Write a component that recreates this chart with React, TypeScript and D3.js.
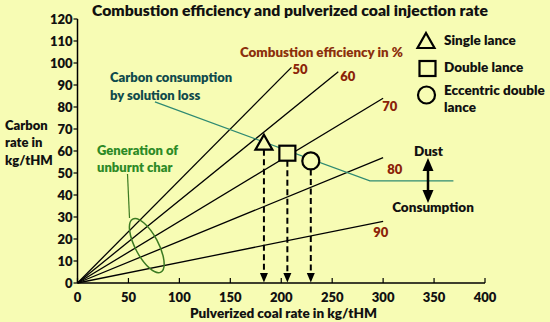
import React from "react";
import * as d3 from "d3";

const xTicks = [0, 50, 100, 150, 200, 250, 300, 350, 400];
const yTicks = [0, 10, 20, 30, 40, 50, 60, 70, 80, 90, 100, 110, 120];
const efficiencies = ["50", "60", "70", "80", "90"];
const lineEndX = [210, 256, 300, 300, 300];
const lineEndY = [98, 96, 84, 57, 28];
const labelDx = [1, 2, -1, 4, -10];
const labelDy = [7, 9, 13, 16, 16];
const lances = ["Single lance", "Double lance", "Eccentric double lance"];
const lanceX = [183, 206, 229];
const lanceY = [64, 59, 55.5];
const lossLineX = [76, 287, 369];
const lossLineY = [82.3, 46.4, 46.4];

const BG = "#f7fcb4";
const FONT = "Lato, 'Open Sans', sans-serif";
const W = 800;

export default function App() {
  const x = d3.scaleLinear().domain([0, 400]).range([77.5, 485]);
  const y = d3.scaleLinear().domain([0, 120]).range([283, 19]);
  const x0 = x(0), y0 = y(0);

  const lineGen = d3.line<[number, number]>().x((d) => x(d[0])).y((d) => y(d[1]));
  const lossPts: [number, number][] = lossLineX.map((v, i) => [v, lossLineY[i]]);

  const triPath = (cx: number, cy: number, w: number, h: number) =>
    `M${cx},${cy - h / 2}L${cx + w / 2},${cy + h / 2}L${cx - w / 2},${cy + h / 2}Z`;

  const markerBottom = (i: number) => {
    const cy = y(lanceY[i]);
    if (i === 2) return cy + 8.5;
    return cy + 7.5;
  };

  const drawMarker = (i: number, cx: number, cy: number, key: string) => {
    if (i === 0)
      return <path key={key} d={triPath(cx, cy, 17, 15)} fill={BG} stroke="#000" strokeWidth={2.2} strokeLinejoin="miter" />;
    if (i === 1)
      return <rect key={key} x={cx - 8} y={cy - 7.5} width={16} height={15} fill={BG} stroke="#000" strokeWidth={2.2} />;
    return <circle key={key} cx={cx} cy={cy} r={8.5} fill={BG} stroke="#000" strokeWidth={2.2} />;
  };

  const ellCx = x(68), ellCy = y(17);

  return (
    <div style={{ position: "absolute", left: 0, top: 0 }}>
      <svg width={550} height={322} style={{ display: "block" }} fontFamily={FONT} fontWeight={W}>
        <rect x={0} y={0} width={550} height={322} fill={BG} />

        <text x={290} y={15.5} textAnchor="middle" fontSize={15} textLength={396} lengthAdjust="spacingAndGlyphs" fill="#111">
          Combustion efficiency and pulverized coal injection rate
        </text>

        {/* axes */}
        <line x1={x0} y1={y(120)} x2={x0} y2={y0} stroke="#000" strokeWidth={1.5} />
        <line x1={x0} y1={y0} x2={x(400)} y2={y0} stroke="#000" strokeWidth={1.5} />
        {yTicks.map((t) => (
          <g key={"yt" + t}>
            <line x1={x0 - 4} x2={x0} y1={y(t)} y2={y(t)} stroke="#000" strokeWidth={1.2} />
            <text x={x0 - 5} y={y(t) + 4.5} textAnchor="end" fontSize={13} fill="#111">{t}</text>
          </g>
        ))}
        {xTicks.map((t) => (
          <g key={"xt" + t}>
            <line x1={x(t)} x2={x(t)} y1={y0} y2={y0 - 5} stroke="#000" strokeWidth={1.2} />
            <text x={x(t)} y={302} textAnchor="middle" fontSize={13} fill="#111">{t}</text>
          </g>
        ))}

        {/* axis titles */}
        <text fontSize={13} fill="#111">
          <tspan x={5} y={130}>Carbon</tspan>
          <tspan x={5} y={147}>rate in</tspan>
          <tspan x={5} y={164.5}>kg/tHM</tspan>
        </text>
        <text x={283.5} y={318} textAnchor="middle" fontSize={13.5} textLength={187} lengthAdjust="spacingAndGlyphs" fill="#111">
          Pulverized coal rate in kg/tHM
        </text>

        {/* efficiency lines */}
        {efficiencies.map((e, i) => (
          <g key={"eff" + e}>
            <path d={lineGen([[0, 0], [lineEndX[i], lineEndY[i]]]) || ""} stroke="#000" strokeWidth={1.3} fill="none" />
            <text x={x(lineEndX[i]) + labelDx[i]} y={y(lineEndY[i]) + labelDy[i]} fontSize={13} fill="#8b2308">{e}</text>
          </g>
        ))}
        <text x={240} y={57} fontSize={13.5} textLength={163} lengthAdjust="spacingAndGlyphs" fill="#8b2f0c">
          Combustion efficiency in %
        </text>

        {/* solution loss line */}
        <path d={lineGen(lossPts) || ""} stroke="#2f8a72" strokeWidth={1.3} fill="none" />
        <text fontSize={13} fill="#0f4a4c">
          <tspan x={110} y={82}>Carbon consumption</tspan>
          <tspan x={110} y={99.5}>by solution loss</tspan>
        </text>

        {/* unburnt char */}
        <text fontSize={13} fill="#2d8a26">
          <tspan x={97} y={155}>Generation of</tspan>
          <tspan x={97} y={172}>unburnt char</tspan>
        </text>
        <line x1={127.5} y1={174} x2={129.5} y2={218} stroke="#3b7a22" strokeWidth={1.2} />
        <ellipse cx={ellCx} cy={ellCy} rx={30} ry={11.5} transform={`rotate(62 ${ellCx} ${ellCy})`} fill="none" stroke="#3b7a22" strokeWidth={1.5} />

        {/* dashed drop lines */}
        {lances.map((l, i) => {
          const cx = x(lanceX[i]);
          const yb = markerBottom(i);
          return (
            <g key={"drop" + i}>
              <line x1={cx} x2={cx} y1={yb} y2={y0 - 8} stroke="#000" strokeWidth={2} strokeDasharray="6,3.5" />
              <path d={`M${cx - 4},${y0 - 10}L${cx + 4},${y0 - 10}L${cx},${y0 - 0.5}Z`} fill="#000" />
            </g>
          );
        })}
        {lances.map((l, i) => drawMarker(i, x(lanceX[i]), y(lanceY[i]), "mk" + i))}

        {/* legend */}
        {drawMarker(0, 426, 40.5, "lg0")}
        {drawMarker(1, 427.5, 68.5, "lg1")}
        {drawMarker(2, 426.5, 95, "lg2")}
        <text fontSize={13.5} fill="#111">
          <tspan x={444} y={45}>Single lance</tspan>
          <tspan x={444} y={72}>Double lance</tspan>
          <tspan x={444} y={95}>Eccentric double</tspan>
          <tspan x={444} y={112}>lance</tspan>
        </text>

        {/* Dust / Consumption */}
        <text x={428.5} y={156} textAnchor="middle" fontSize={13.5} fill="#111">Dust</text>
        <line x1={428} x2={428} y1={166} y2={194} stroke="#000" strokeWidth={2.5} />
        <path d="M428,158L433.5,171L422.5,171Z" fill="#000" />
        <path d="M428,203L433.5,190L422.5,190Z" fill="#000" />
        <text x={433} y={212} textAnchor="middle" fontSize={13.5} fill="#111">Consumption</text>
      </svg>
    </div>
  );
}
